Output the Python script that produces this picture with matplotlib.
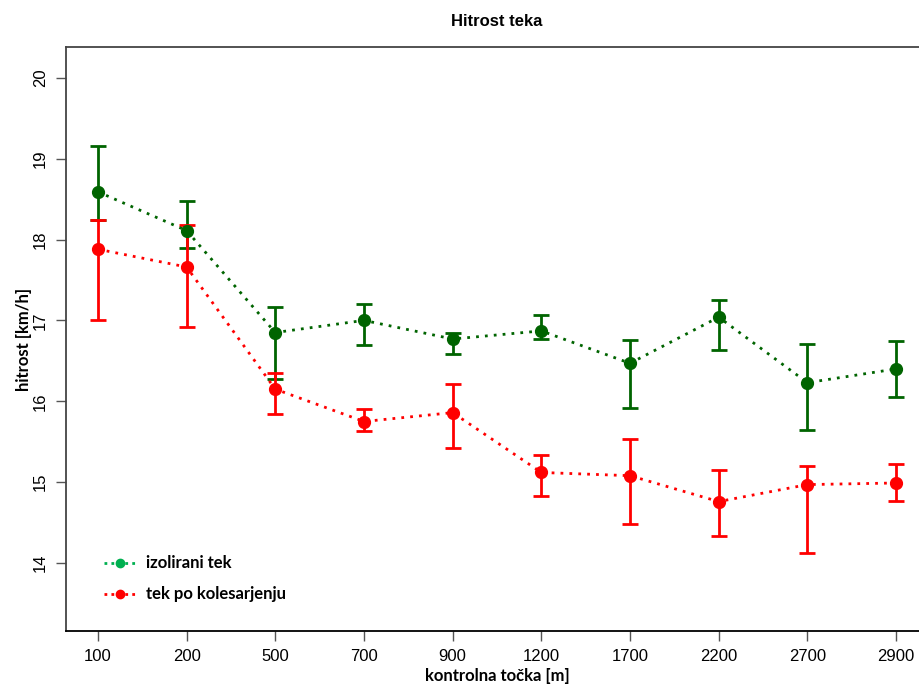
import matplotlib
matplotlib.use("Agg")
import matplotlib.pyplot as plt
from matplotlib.lines import Line2D
import numpy as np

# kontrolne točke in povprečne hitrosti z intervali
tocke = ["100", "200", "500", "700", "900", "1200", "1700", "2200", "2700", "2900"]

izoliran = [18.59, 18.11, 16.85, 17.00, 16.77, 16.87, 16.47, 17.04, 16.23, 16.40]
izoliran_zg = [19.16, 18.47, 17.17, 17.20, 16.85, 17.07, 16.76, 17.25, 16.71, 16.75]
izoliran_sp = [18.24, 17.90, 16.27, 16.69, 16.58, 16.77, 15.92, 16.64, 15.64, 16.05]

kolo = [17.88, 17.66, 16.15, 15.75, 15.86, 15.12, 15.08, 14.76, 14.97, 14.99]
kolo_zg = [18.24, 18.18, 16.35, 15.90, 16.21, 15.34, 15.53, 15.15, 15.20, 15.22]
kolo_sp = [17.01, 16.92, 15.84, 15.63, 15.42, 14.83, 14.48, 14.33, 14.13, 14.77]

zelena = "#006400"
rdeca = "#ff0000"
zelena_leg = "#00b050"

fig = plt.figure(figsize=(9.2, 6.86), dpi=100)
ax = fig.add_axes([66/920, 55/686, 862/920, 584/686])

x = np.arange(len(tocke))


def serija(y, zg, sp, barva):
    y = np.array(y)
    err = [y - np.array(sp), np.array(zg) - y]
    ax.errorbar(x, y, yerr=err, fmt="none", ecolor=barva, elinewidth=2,
                capsize=5.5, capthick=2, zorder=2)
    ax.plot(x, y, linestyle=(0, (1, 2.2)), lw=2, color=barva, marker="o",
            markersize=8.5, zorder=3)


serija(izoliran, izoliran_zg, izoliran_sp, zelena)
serija(kolo, kolo_zg, kolo_sp, rdeca)

ax.set_xlim(-0.36, 9.36)
ax.set_ylim(13.16, 20.38)
ax.set_xticks(x)
ax.set_xticklabels(tocke, fontfamily="Liberation Sans", fontsize=12)
ax.set_yticks(range(14, 21))
for t in ax.set_yticklabels([str(v) for v in range(14, 21)],
                            fontfamily="Liberation Sans", fontsize=12):
    t.set_rotation(90)
    t.set_va("center")
ax.tick_params(direction="out", length=7, width=1, color="#555555", pad=6)

for s in ["left", "top", "bottom"]:
    ax.spines[s].set_color("#444444")
    ax.spines[s].set_linewidth(1.3)
ax.spines["bottom"].set_color("black")
ax.spines["right"].set_visible(False)

ax.set_title("Hitrost teka", fontfamily="Liberation Sans", fontweight="bold",
             fontsize=12, pad=15)
ax.set_xlabel("kontrolna točka [m]", fontfamily="Lato", fontweight="bold",
              fontsize=12, labelpad=3)
ax.set_ylabel("hitrost [km/h]", fontfamily="Lato", fontweight="bold",
              fontsize=12, labelpad=1)

roc = [
    Line2D([0], [0], color=zelena_leg, linestyle=(0, (1, 1.5)), lw=2,
           marker="o", markersize=6),
    Line2D([0], [0], color=rdeca, linestyle=(0, (1, 1.5)), lw=2,
           marker="o", markersize=6),
]
ax.legend(roc, ["izolirani tek", "tek po kolesarjenju"], loc="upper left",
          bbox_to_anchor=(0.027, 0.155), frameon=False, handlelength=1.9,
          handletextpad=0.6, labelspacing=0.9,
          prop={"family": "Lato", "weight": "bold", "size": 12})

fig.savefig("out.png", dpi=100)
